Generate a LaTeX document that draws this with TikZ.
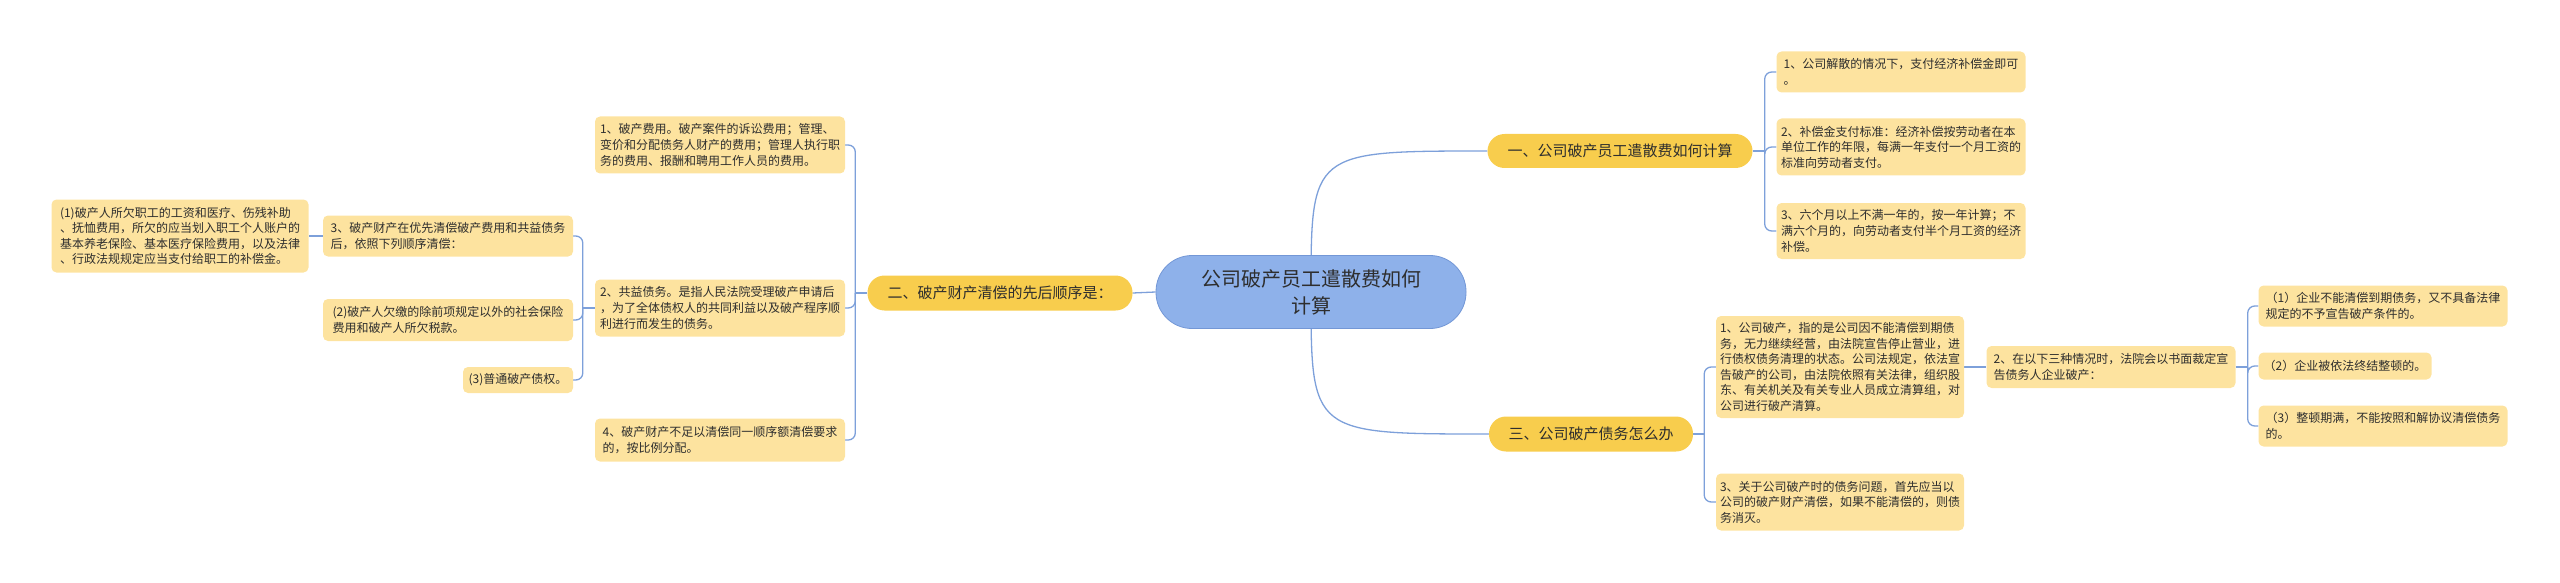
\documentclass[tikz,border=0pt]{standalone}
\usepackage{fontspec}
\newfontfamily\cjk{Noto Sans CJK SC}
\usetikzlibrary{positioning,backgrounds}
\definecolor{rootblue}{HTML}{8EB1EA}
\definecolor{rootedge}{HTML}{7397D6}
\definecolor{topicgold}{HTML}{F8CD4D}
\definecolor{leafyellow}{HTML}{FDE39F}
\definecolor{linkblue}{HTML}{7DA0DA}
\definecolor{inkgray}{HTML}{2E2E2E}

\begin{document}
\begin{tikzpicture}[x=1pt,y=-1pt,
    wh/.style 2 args={minimum width=#1pt,minimum height=#2pt},
    root/.style={draw=rootedge,fill=rootblue,line width=0.8pt,rounded corners=36pt,align=center,text=inkgray,
      font=\cjk\fontsize{20}{27}\selectfont,inner sep=0pt},
    topic/.style={fill=topicgold,rounded corners=17pt,text=inkgray,font=\cjk\fontsize{15}{18}\selectfont,inner sep=0pt},
    leaf/.style={fill=leafyellow,rounded corners=5pt,align=left,text=inkgray,font=\cjk\fontsize{12}{15.6}\selectfont,
      inner xsep=4pt,inner ysep=2pt},
    link/.style={draw=linkblue,line width=1.3pt,rounded corners=7pt}]
      \useasboundingbox (0,0) rectangle (2560,583);

      \node[root,wh={310}{73}] (r) at (1311,292) {公司破产员工遣散费如何\\计算};

      \node[topic,wh={265}{34}] (b1) at (1620,151) {一、公司破产员工遣散费如何计算};
      \node[topic,wh={265}{35}] (b2) at (1000,293) {二、破产财产清偿的先后顺序是：};
      \node[topic,wh={204}{35}] (b3) at (1591,434) {三、公司破产债务怎么办};

      \node[leaf,wh={249}{41}] (p1) at (1901,72) {1、公司解散的情况下，支付经济补偿金即可\\。};
      \node[leaf,wh={249}{57}] (p2) at (1901,147) {2、补偿金支付标准：经济补偿按劳动者在本\\单位工作的年限，每满一年支付一个月工资的\\标准向劳动者支付。};
      \node[leaf,wh={249}{56}] (p3) at (1901,231) {3、六个月以上不满一年的，按一年计算；不\\满六个月的，向劳动者支付半个月工资的经济\\补偿。};

      \node[leaf,wh={248}{102}] (t1) at (1840,367) {1、公司破产，指的是公司因不能清偿到期债\\务，无力继续经营，由法院宣告停止营业，进\\行债权债务清理的状态。公司法规定，依法宣\\告破产的公司，由法院依照有关法律，组织股\\东、有关机关及有关专业人员成立清算组，对\\公司进行破产清算。};
      \node[leaf,wh={249}{42}] (t2) at (2111,367) {2、在以下三种情况时，法院会以书面裁定宣\\告债务人企业破产：};
      \node[leaf,wh={248}{57}] (t3) at (1840,502) {3、关于公司破产时的债务问题，首先应当以\\公司的破产财产清偿，如果不能清偿的，则债\\务消灭。};

      \node[leaf,wh={249}{41}] (u1) at (2383,306) {（1）企业不能清偿到期债务，又不具备法律\\规定的不予宣告破产条件的。};
      \node[leaf,wh={173}{27}] (u2) at (2345,366) {（2）企业被依法终结整顿的。};
      \node[leaf,wh={249}{41}] (u3) at (2383,426) {（3）整顿期满，不能按照和解协议清偿债务\\的。};

      \node[leaf,wh={250}{57}] (q1) at (720,145) {1、破产费用。破产案件的诉讼费用；管理、\\变价和分配债务人财产的费用；管理人执行职\\务的费用、报酬和聘用工作人员的费用。};
      \node[leaf,wh={250}{57}] (q2) at (720,308) {2、共益债务。是指人民法院受理破产申请后\\，为了全体债权人的共同利益以及破产程序顺\\利进行而发生的债务。};
      \node[leaf,wh={250}{43}] (q4) at (720,440) {4、破产财产不足以清偿同一顺序额清偿要求\\的，按比例分配。};
      \node[leaf,wh={250}{41}] (q3) at (448,236) {3、破产财产在优先清偿破产费用和共益债务\\后，依照下列顺序清偿：};

      \node[leaf,wh={257}{73}] (s1) at (180,236) {(1)破产人所欠职工的工资和医疗、伤残补助\\、抚恤费用，所欠的应当划入职工个人账户的\\基本养老保险、基本医疗保险费用，以及法律\\、行政法规规定应当支付给职工的补偿金。};
      \node[leaf,wh={250}{42}] (s2) at (448,320) {(2)破产人欠缴的除前项规定以外的社会保险\\费用和破产人所欠税款。};
      \node[leaf,wh={110}{26}] (s3) at (518,380) {(3)普通破产债权。};

      \coordinate (j1) at ([xshift=12pt]b1.east);
      \coordinate (j2) at ([xshift=-12pt]b2.west);
      \coordinate (j3) at ([xshift=11pt]b3.east);
      \coordinate (j4) at ([xshift=-12pt]q2.west);
      \coordinate (j5) at ([xshift=12pt]t2.east);

      \begin{scope}[on background layer]
        \draw[link] (r.center) .. controls (r.center |- b1.west) .. (b1.west);
        \draw[link] (r.center) .. controls (r.center |- b3.west) .. (b3.west);
        \draw[link] (r.west) -- (b2.east);

        \draw[link] (b1.east) -- (j1);
        \draw[link] (j1) |- (p1.west);
        \draw[link] (j1) |- (p2.west);
        \draw[link] (j1) |- (p3.west);

        \draw[link] (b2.west) -- (j2);
        \draw[link] (j2) |- (q1.east);
        \draw[link] (j2) |- (q2.east);
        \draw[link] (j2) |- (q4.east);

        \draw[link] (q2.west) -- (j4);
        \draw[link] (j4) |- (q3.east);
        \draw[link] (j4) |- (s2.east);
        \draw[link] (j4) |- (s3.east);
        \draw[link] (q3.west) -- (s1.east);

        \draw[link] (b3.east) -- (j3);
        \draw[link] (j3) |- (t1.west);
        \draw[link] (j3) |- (t3.west);
        \draw[link] (t1.east) -- (t2.west);

        \draw[link] (t2.east) -- (j5);
        \draw[link] (j5) |- (u1.west);
        \draw[link] (j5) |- (u2.west);
        \draw[link] (j5) |- (u3.west);
      \end{scope}
\end{tikzpicture}
\end{document}
